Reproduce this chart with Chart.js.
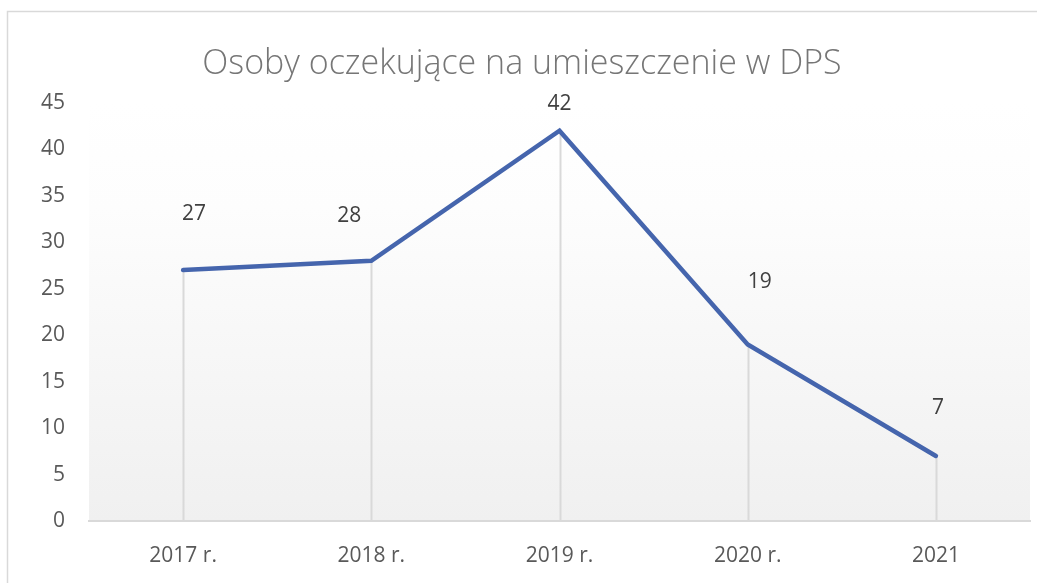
<!DOCTYPE html>
<html>
<head>
<meta charset="utf-8">
<script src="https://cdn.jsdelivr.net/npm/chart.js@4"></script>
<style>
html,body{margin:0;padding:0;background:#fff;}
#wrap{width:1037px;height:583px;position:relative;}
</style>
</head>
<body>
<div id="wrap"><canvas id="c" width="1037" height="583"></canvas></div>
<script>
const categories = ["2017 r.", "2018 r.", "2019 r.", "2020 r.", "2021"];
const values = [27, 28, 42, 19, 7];
const yTicks = [0, 5, 10, 15, 20, 25, 30, 35, 40, 45];
const titleText = "Osoby oczekujące na umieszczenie w DPS";

const FONT = "'Open Sans', 'Noto Sans', sans-serif";

const framePlugin = {
  id: 'frame',
  beforeDraw(chart) {
    const ctx = chart.ctx, a = chart.chartArea;
    ctx.save();
    const g = ctx.createLinearGradient(0, a.top, 0, a.bottom);
    g.addColorStop(0, '#ffffff');
    g.addColorStop(0.25, '#fdfdfd');
    g.addColorStop(1, '#f0f0f0');
    ctx.fillStyle = g;
    ctx.fillRect(a.left, a.top, a.right - a.left, a.bottom - a.top);
    ctx.strokeStyle = '#d9d9d9';
    ctx.lineWidth = 1.5;
    ctx.beginPath();
    ctx.moveTo(7.5, 583);
    ctx.lineTo(7.5, 11.5);
    ctx.lineTo(1037, 11.5);
    ctx.stroke();
    ctx.restore();
  }
};

const dropLinePlugin = {
  id: 'dropLines',
  beforeDatasetsDraw(chart) {
    const ctx = chart.ctx;
    const meta = chart.getDatasetMeta(0);
    const yBase = chart.scales.y.getPixelForValue(0);
    ctx.save();
    ctx.strokeStyle = '#d9d9d9';
    ctx.lineWidth = 2;
    meta.data.forEach(pt => {
      ctx.beginPath();
      ctx.moveTo(Math.round(pt.x) + 0.5, pt.y);
      ctx.lineTo(Math.round(pt.x) + 0.5, yBase);
      ctx.stroke();
    });
    ctx.restore();
  }
};

const labelPlugin = {
  id: 'valueLabels',
  afterDatasetsDraw(chart, args, opts) {
    const ctx = chart.ctx;
    const meta = chart.getDatasetMeta(0);
    const ds = chart.data.datasets[0].data;
    ctx.save();
    ctx.font = "21px " + FONT;
    ctx.fillStyle = '#404040';
    ctx.textAlign = 'center';
    ctx.textBaseline = 'middle';
    meta.data.forEach((pt, i) => {
      const o = opts.offsets[i] || [0, -30];
      ctx.fillText(String(ds[i]), pt.x + o[0], pt.y + o[1]);
    });
    ctx.restore();
  }
};

new Chart(document.getElementById('c'), {
  type: 'line',
  data: {
    labels: categories,
    datasets: [{
      data: values,
      borderColor: '#4565ad',
      borderWidth: 4.5,
      borderJoinStyle: 'miter',
      borderCapStyle: 'round',
      pointRadius: 0,
      pointHoverRadius: 0,
      tension: 0,
      fill: false
    }]
  },
  options: {
    responsive: false,
    animation: false,
    events: [],
    layout: { padding: { left: 14, right: 7, top: 0, bottom: 0 } },
    plugins: {
      legend: { display: false },
      tooltip: { enabled: false },
      title: {
        display: true,
        text: titleText,
        color: '#767676',
        font: { family: FONT, size: 34, weight: '300', lineHeight: 1.2 },
        padding: { top: 44, bottom: 18 }
      },
      valueLabels: {
        offsets: [[11, -56], [-22, -45], [0, -27], [12, -62], [2, -48]]
      }
    },
    scales: {
      x: {
        offset: true,
        grid: { display: false, drawTicks: false },
        border: { display: true, color: '#d9d9d9', width: 2 },
        ticks: { color: '#595959', font: { family: FONT, size: 21 }, padding: 22 },
        afterFit(s) { s.height = 62; }
      },
      y: {
        min: 0,
        max: 45,
        afterBuildTicks(s) { s.ticks = yTicks.map(v => ({ value: v })); },
        grid: { display: false, drawTicks: false },
        border: { display: false },
        ticks: { color: '#595959', font: { family: FONT, size: 21 }, padding: 24 },
        afterFit(s) { s.width = 75; }
      }
    }
  },
  plugins: [framePlugin, dropLinePlugin, labelPlugin]
});
</script>
</body>
</html>
